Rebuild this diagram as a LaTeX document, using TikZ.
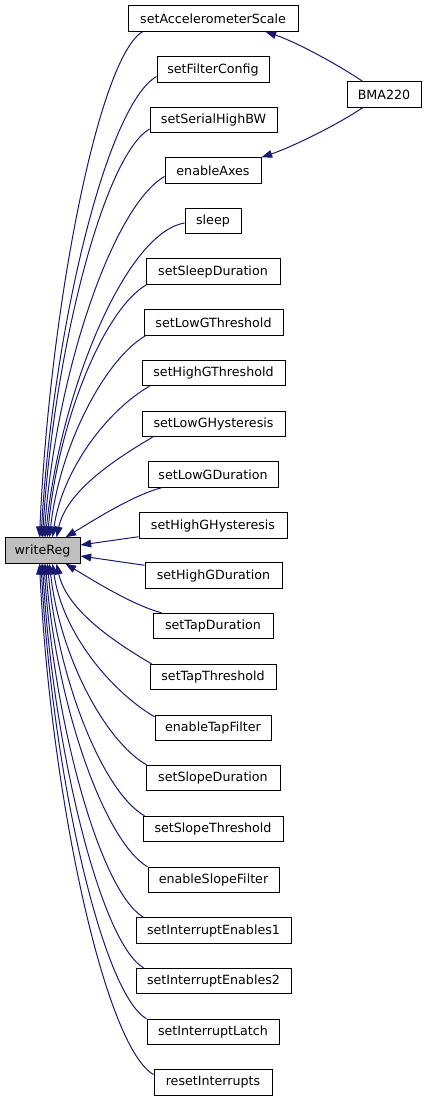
\documentclass[tikz,border=0pt]{standalone}
\usepackage{fontspec}
\setmainfont{DejaVu Sans}
\usetikzlibrary{arrows.meta,calc}
\definecolor{edgeblue}{RGB}{25,25,112}
\begin{document}
\begin{tikzpicture}[x=0.75pt,y=-0.75pt,
  fn/.style={draw=black,line width=0.75pt,fill=white,minimum height=19.1pt,inner sep=0pt,
    font=\fontsize{9.5pt}{11pt}\selectfont},
  bw/.style={minimum width=#1*0.75pt},
  calledge/.style={draw=edgeblue,line width=0.75pt,-{Triangle[length=8pt,width=5.8pt]}}]
\useasboundingbox (0,0) rectangle (427,1101);
% nodes
\node[fn,bw=170] (n0) at (213,18.5) {setAccelerometerScale};
\node[fn,bw=112] (n1) at (213,69.5) {setFilterConfig};
\node[fn,bw=127] (n2) at (213.5,120) {setSerialHighBW};
\node[fn,bw=96] (n3) at (213,170.5) {enableAxes};
\node[fn,bw=56] (n4) at (213,221) {sleep};
\node[fn,bw=134] (n5) at (213,271.5) {setSleepDuration};
\node[fn,bw=139] (n6) at (213.5,322.5) {setLowGThreshold};
\node[fn,bw=143] (n7) at (213.5,373) {setHighGThreshold};
\node[fn,bw=143] (n8) at (213.5,424) {setLowGHysteresis};
\node[fn,bw=130] (n9) at (213,474.5) {setLowGDuration};
\node[fn,bw=148] (n10) at (213,525.5) {setHighGHysteresis};
\node[fn,bw=137] (n11) at (213.5,575.5) {setHighGDuration};
\node[fn,bw=120] (n12) at (213,626) {setTapDuration};
\node[fn,bw=126] (n13) at (213,677) {setTapThreshold};
\node[fn,bw=116] (n14) at (213,728) {enableTapFilter};
\node[fn,bw=134] (n15) at (213,778) {setSlopeDuration};
\node[fn,bw=140] (n16) at (213,829) {setSlopeThreshold};
\node[fn,bw=131] (n17) at (213.5,880) {enableSlopeFilter};
\node[fn,bw=155] (n18) at (213.5,930.5) {setInterruptEnables1};
\node[fn,bw=155] (n19) at (213.5,981) {setInterruptEnables2};
\node[fn,bw=132] (n20) at (213,1032) {setInterruptLatch};
\node[fn,bw=118] (n21) at (213,1082.5) {resetInterrupts};
\node[fn,bw=75,fill={rgb,255:red,191;green,191;blue,191}] (w) at (42.5,550.5) {writeReg};
\node[fn,bw=74] (b) at (384,94.5) {BMA220};
% edges upper
\draw[calledge] ($(n0.south west)+(15,0)$) .. controls +(-44,26) and +(10,-228) .. ($(w.north west)+(35,0)$);
\draw[calledge] ($(n1.west)+(0,7)$) .. controls +(-50,29) and +(12,-208) .. ($(w.north west)+(36.5,0)$);
\draw[calledge] ($(n2.west)+(0,9)$) .. controls +(-46,27) and +(11,-184) .. ($(w.north west)+(38,0)$);
\draw[calledge] ($(n3.west)+(0,6)$) .. controls +(-52,30) and +(12,-163) .. ($(w.north west)+(39.5,0)$);
\draw[calledge] ($(n4.west)+(0,2)$) .. controls +(-60,10) and +(14,-142) .. ($(w.north west)+(41,0)$);
\draw[calledge] ($(n5.south west)+(1,0)$) .. controls +(-43,25) and +(10,-114) .. ($(w.north west)+(43,0)$);
\draw[calledge] ($(n6.south west)+(2,0)$) .. controls +(-41,24) and +(10,-91) .. ($(w.north west)+(45,0)$);
\draw[calledge] ($(n7.south west)+(8,0)$) .. controls +(-42,24) and +(10,-68) .. ($(w.north west)+(48,0)$);
\draw[calledge] ($(n8.south west)+(11,0)$) .. controls +(-41,24) and +(10,-45) .. ($(w.north west)+(52,0)$);
\draw[calledge] ($(n9.south west)+(14,0)$) .. controls +(-30,8) and +(25,-15) .. ($(w.north west)+(61,0)$);
\draw[calledge] ($(n10.south west)+(0,-2)$) -- ($(w.east)+(0,-5.5)$);
\draw[calledge] ($(n11.north west)+(0,3)$) -- ($(w.east)+(0,5.5)$);
% edges lower
\draw[calledge] ($(n12.north west)+(9,0)$) .. controls +(-30,-8) and +(25,15) .. ($(w.south west)+(61,0)$);
\draw[calledge] ($(n13.north west)+(2,0)$) .. controls +(-41,-24) and +(10,45) .. ($(w.south west)+(52,0)$);
\draw[calledge] ($(n14.north west)+(0,2)$) .. controls +(-44,-26) and +(10,69) .. ($(w.south west)+(48,0)$);
\draw[calledge] ($(n15.north west)+(1,0)$) .. controls +(-42,-24) and +(10,91) .. ($(w.south west)+(45,0)$);
\draw[calledge] ($(n16.north west)+(2,0)$) .. controls +(-42,-24) and +(10,114) .. ($(w.south west)+(43,0)$);
\draw[calledge] ($(n17.north west)+(0,0)$) .. controls +(-44,-26) and +(10,137) .. ($(w.south west)+(41,0)$);
\draw[calledge] ($(n18.north west)+(8,0)$) .. controls +(-43,-25) and +(10,160) .. ($(w.south west)+(39.5,0)$);
\draw[calledge] ($(n19.north west)+(8,0)$) .. controls +(-43,-25) and +(10,182) .. ($(w.south west)+(38,0)$);
\draw[calledge] ($(n20.north west)+(0,0)$) .. controls +(-45,-26) and +(11,206) .. ($(w.south west)+(36.5,0)$);
\draw[calledge] ($(n21.west)+(0,-8)$) .. controls +(-49,-28) and +(11,230) .. ($(w.south west)+(35,0)$);
% BMA220 edges
\draw[calledge] ($(b.north west)+(16,0)$) .. controls +(-25,-17) and +(30,10) .. ($(n0.south east)+(-33,0)$);
\draw[calledge] ($(b.south west)+(16,0)$) .. controls +(-25,17) and +(30,-10) .. ($(n3.north east)+(0,0)$);
\end{tikzpicture}
\end{document}
